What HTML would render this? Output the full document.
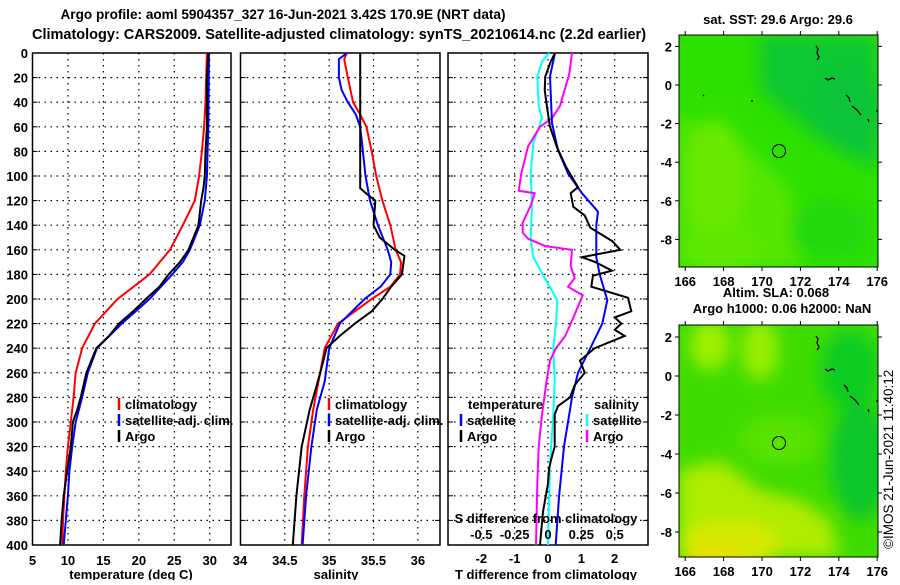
<!DOCTYPE html>
<html><head><meta charset="utf-8">
<style>
html,body{margin:0;padding:0;background:#fff;}
body{width:900px;height:580px;overflow:hidden;font-family:"Liberation Sans",sans-serif;}
svg text{font-family:"Liberation Sans",sans-serif;font-weight:bold;fill:#000;}
</style></head>
<body>
<svg id="chart" width="900" height="580" viewBox="0 0 900 580" xmlns="http://www.w3.org/2000/svg" font-size="13">
<defs>
<filter id="blur8" x="-50%" y="-50%" width="200%" height="200%"><feGaussianBlur stdDeviation="8"/></filter>
<clipPath id="clipTop"><rect x="679" y="35" width="199" height="232"/></clipPath>
<clipPath id="clipBot"><rect x="679" y="325" width="199" height="232"/></clipPath>
</defs>
<text x="283" y="19" text-anchor="middle" font-size="13.6">Argo profile: aoml 5904357_327 16-Jun-2021 3.42S 170.9E (NRT data)</text>
<text x="339" y="39" text-anchor="middle" font-size="14.5">Climatology: CARS2009. Satellite-adjusted climatology: synTS_20210614.nc (2.2d earlier)</text>
<g id="panels"></g>

<!-- Top map -->
<g>
<text x="778" y="24" text-anchor="middle">sat. SST: 29.6 Argo: 29.6</text>
<g clip-path="url(#clipTop)">
<rect x="679" y="35" width="199" height="232" fill="#2ee000"/>
<g filter="url(#blur8)">
<path d="M679 120 L720 125 L760 160 L790 190 L800 267 L679 267Z" fill="#55e600"/>
<ellipse cx="715" cy="180" rx="30" ry="60" fill="#6aea00"/>
<ellipse cx="720" cy="250" rx="40" ry="25" fill="#5fe800"/>
<path d="M760 35 L878 35 L878 170 L820 140 L760 90Z" fill="#10c830"/>
<ellipse cx="850" cy="110" rx="35" ry="40" fill="#08c438"/>
<ellipse cx="830" cy="230" rx="40" ry="30" fill="#22d810"/>
</g>
</g>
<rect x="679" y="35" width="199" height="232" fill="none" stroke="#000" stroke-width="1"/>
<path d="M816 46 l2 3 l-1 4 l2 4 l-2 3 M825 78 l3 2 l4 -2 l3 1 M846 95 l3 3 l1 4 M852 106 l5 4 l4 5 M868 119 l1 3 M703 95 l1 1 M751 101 l2 0 M877 110 l0 2" stroke="#000" stroke-width="1.3" fill="none"/>
<circle cx="779" cy="151" r="6.5" fill="none" stroke="#000" stroke-width="1"/>
<g id="topMapAxes"></g>
</g>

<!-- Bottom map -->
<g>
<text x="776" y="297" text-anchor="middle">Altim. SLA: 0.068</text>
<text x="782" y="313" text-anchor="middle">Argo h1000: 0.06 h2000: NaN</text>
<g clip-path="url(#clipBot)">
<rect x="679" y="325" width="199" height="232" fill="#40dc00"/>
<g filter="url(#blur8)">
<ellipse cx="710" cy="345" rx="20" ry="25" fill="#9ef000"/>
<ellipse cx="760" cy="350" rx="18" ry="30" fill="#9aef00"/>
<ellipse cx="850" cy="370" rx="30" ry="40" fill="#10cc20"/>
<ellipse cx="860" cy="460" rx="30" ry="60" fill="#08c62a"/>
<ellipse cx="780" cy="440" rx="40" ry="25" fill="#58e200"/>
<path d="M679 470 L720 460 L760 490 L800 500 L830 520 L840 557 L679 557Z" fill="#aeec00"/>
<ellipse cx="730" cy="545" rx="50" ry="25" fill="#d6ea00"/>
<ellipse cx="715" cy="560" rx="30" ry="15" fill="#e8e000"/>
</g>
</g>
<rect x="679" y="325" width="199" height="232" fill="none" stroke="#000" stroke-width="1"/>
<path d="M816 336 l2 3 l-1 4 l2 4 l-2 3 M825 369 l3 2 l4 -2 l3 1 M844 385 l3 3 l1 4 M850 396 l5 4 l4 5 M868 409 l1 3 M877 400 l0 2" stroke="#000" stroke-width="1.3" fill="none"/>
<circle cx="779" cy="443" r="6.5" fill="none" stroke="#000" stroke-width="1"/>
<g id="botMapAxes"></g>
</g>
<text transform="translate(893,549) rotate(-90)" font-size="13.5" style="font-weight:normal">©IMOS 21-Jun-2021 11:40:12</text>
</svg>

<script>
// ---- data (depths in dbar) ----
const depthTicks = [0,20,40,60,80,100,120,140,160,180,200,220,240,260,280,300,320,340,360,380,400];
const tempTicks = [5,10,15,20,25,30];
const salTicks = [34,34.5,35,35.5,36];
const dTTicks = [-2,-1,0,1,2];
const dSTicks = [-0.5,-0.25,0,0.25,0.5];
const dSTickLabels = ['-0.5','-0.25','0','0.25','0.5'];

const tClimDepth = [0,20,40,60,80,100,120,140,160,180,200,220,240,260,280,300,320,340,360,380,400];
const tClimVal   = [29.6,29.5,29.4,29.2,28.9,28.5,27.9,26.2,24.4,21.5,17.0,13.8,12.0,11.1,10.8,10.4,10.0,9.7,9.5,9.3,9.2];
const tSatDepth = [0,60,100,120,140,160,170,180,200,220,240,260,280,300,320,340,360,380,400];
const tSatVal   = [29.9,29.8,29.6,29.3,28.6,27.2,26.2,24.7,21.5,17.6,14.1,12.8,12.0,11.1,10.6,10.2,10.0,9.7,9.4];
const tArgoDepth = [0,20,60,80,100,110,120,140,160,170,180,190,200,210,220,230,240,260,280,290,300,320,340,360,380,400];
const tArgoVal   = [29.8,29.6,29.6,29.4,29.3,29.1,28.8,28.4,27.0,25.8,24.2,22.9,21.0,19.2,17.2,15.8,14.0,12.6,11.8,11.3,10.7,10.4,9.9,9.4,9.1,8.9];

const sClimDepth = [0,5,20,40,50,60,80,100,120,140,160,170,180,190,200,210,220,240,267,290,320,360,400];
const sClimVal   = [35.2,35.17,35.21,35.27,35.35,35.42,35.48,35.53,35.6,35.69,35.75,35.81,35.8,35.69,35.48,35.29,35.1,34.95,34.88,34.82,34.76,34.72,34.69];
const sSatDepth = [0,5,20,30,40,50,60,80,100,120,140,160,170,180,190,200,220,240,267,290,320,360,400];
const sSatVal   = [35.2,35.11,35.11,35.14,35.21,35.3,35.35,35.38,35.41,35.46,35.55,35.66,35.7,35.69,35.58,35.4,35.12,35.0,34.95,34.86,34.8,34.74,34.7];
const sArgoDepth = [0,110,115,120,140,150,160,165,170,180,190,200,210,220,230,240,260,290,320,360,400];
const sArgoVal   = [35.35,35.35,35.43,35.52,35.5,35.57,35.74,35.85,35.84,35.82,35.7,35.6,35.48,35.29,35.12,34.97,34.9,34.78,34.69,34.63,34.59];

const dTSatDepth = [0,19,57,79,98,114,129,140,166,180,201,220,240,260,280,300,320,361,400];
const dTSatVal   = [0.21,0.06,0.12,0.3,0.6,1.02,1.5,1.45,1.45,1.55,1.78,1.63,1.27,0.9,0.72,0.6,0.48,0.33,0.23];
const dTArgoDepth = [0,7,19,30,44,60,76,93,109,114,125,132,142,153,160,166,170,177,181,190,199,210,215,220,225,230,240,250,260,270,280,287,294,320,330,338,350,373,400];
const dTArgoVal   = [0.21,0.08,-0.08,-0.1,-0.03,0.06,0.26,0.55,0.9,0.68,0.76,1.1,1.27,1.93,2.17,1.02,1.42,1.92,1.35,1.3,2.4,2.5,2.0,2.2,2.0,2.3,1.4,0.96,1.1,0.8,0.66,0.3,0.2,0.2,0.1,0.03,0.0,-0.15,-0.24];
const dSSatDepth = [0,7,19,43,53,73,98,124,151,166,180,201,220,240,266,294,335,400];
const dSSatVal   = [0.01,-0.045,-0.08,-0.07,-0.045,-0.11,-0.13,-0.12,-0.13,-0.11,-0.04,0.07,0.06,0.04,0.05,0.04,0.015,0.0];
const dSArgoDepth = [0,17,43,53,60,76,98,112,114,124,138,146,151,157,160,173,183,190,197,210,220,230,240,250,266,294,320,350,400];
const dSArgoVal   = [0.18,0.16,0.09,0.03,-0.06,-0.15,-0.2,-0.22,-0.1,-0.13,-0.19,-0.19,-0.15,-0.02,0.18,0.17,0.2,0.15,0.26,0.21,0.17,0.13,0.06,0.015,-0.01,-0.045,-0.07,-0.08,-0.09];

const mapLonTicks = [166,168,170,172,174,176];
const mapLatTicks = [2,0,-2,-4,-6,-8];

const NS = 'http://www.w3.org/2000/svg';
const panelsG = document.getElementById('panels');
function mk(tag, attrs, parent){ const e=document.createElementNS(NS,tag); for(const k in attrs) e.setAttribute(k,attrs[k]); (parent||panelsG).appendChild(e); return e; }

const yTop=53, yBot=545;
function yScale(d){ return yTop + d*(yBot-yTop)/400; }

const panels = [
  {name:'temperature', x0:32.5, x1:231, vmin:5, vmax:33},
  {name:'salinity', x0:240.5, x1:440, vmin:34, vmax:36.25},
  {name:'difference', x0:448, x1:648, vmin:-3, vmax:3}
];
function xs(p, v){ return p.x0 + (v-p.vmin)*(p.x1-p.x0)/(p.vmax-p.vmin); }

function frame(p, xgrid){
  const g = mk('g',{});
  
  
  depthTicks.forEach(function(d){
    if(d===0||d===400) return;
    const l = mk('line',{x1:p.x0,x2:p.x1,y1:yScale(d),y2:yScale(d),stroke:'#000','stroke-width':1.2,'stroke-dasharray':'1.5,4.5'},g);
    
    
    mk('line',{x1:p.x0,x2:p.x0+5,y1:yScale(d),y2:yScale(d),stroke:'#000'},g);
    mk('line',{x1:p.x1-5,x2:p.x1,y1:yScale(d),y2:yScale(d),stroke:'#000'},g);
  });
  xgrid.forEach(function(v){
    const x = xs(p,v);
    if(x<=p.x0+1||x>=p.x1-1) return;
    const l = mk('line',{x1:x,x2:x,y1:yTop,y2:yBot,stroke:'#000','stroke-width':1.2,'stroke-dasharray':'1.5,4.5'},g);
    
    
  });
  const r = mk('rect',{x:p.x0,y:yTop,width:p.x1-p.x0,height:yBot-yTop,fill:'none',stroke:'#000','stroke-width':1.5},g);
  
  
  return g;
}
function series(p, depths, vals, color, name, scale){
  scale = scale||1;
  const pts = depths.map(function(d,i){ return xs(p, vals[i]*scale).toFixed(1)+','+yScale(d).toFixed(1); }).join(' ');
  const pl = mk('polyline',{points:pts,fill:'none',stroke:color,'stroke-width':2,'stroke-linejoin':'miter'});
  
  
}
function text(x,y,s,name,anchor,size){
  const t = mk('text',{x:x,y:y,'text-anchor':anchor||'start','font-size':size||13});
  t.textContent = s;
  
  
  return t;
}
function legendItem(x,y,color,label){
  const l = mk('line',{x1:x,x2:x,y1:y-11,y2:y+1,stroke:color,'stroke-width':2.5});
  
  
  text(x+6,y,label,'legend-entry','start',13);
}

// Panel 1
const p1=panels[0];
frame(p1, tempTicks);
series(p1,tClimDepth,tClimVal,'#ff0000','climatology-temperature-line');
series(p1,tSatDepth,tSatVal,'#0000ff','satellite-temperature-line');
series(p1,tArgoDepth,tArgoVal,'#000000','argo-temperature-line');
depthTicks.forEach(function(d){ text(28,yScale(d)+5,String(d),'depth-tick-label','end'); });
tempTicks.forEach(function(v){ text(xs(p1,v),565,String(v),'temperature-tick-label','middle'); });
text(131,579,'temperature (deg C)','temperature-axis-title','middle');
legendItem(119,409,'#ff0000','climatology');
legendItem(119,425,'#0000ff','satellite-adj. clim.');
legendItem(119,441,'#000000','Argo');

// Panel 2
const p2=panels[1];
frame(p2, salTicks);
series(p2,sClimDepth,sClimVal,'#ff0000','climatology-salinity-line');
series(p2,sSatDepth,sSatVal,'#0000ff','satellite-salinity-line');
series(p2,sArgoDepth,sArgoVal,'#000000','argo-salinity-line');
salTicks.forEach(function(v){ text(v===34?240:xs(p2,v),565,String(v),'salinity-tick-label','middle'); });
text(336,579,'salinity','salinity-axis-title','middle');
legendItem(329,409,'#ff0000','climatology');
legendItem(329,425,'#0000ff','satellite-adj. clim.');
legendItem(329,441,'#000000','Argo');

// Panel 3
const p3=panels[2];
frame(p3, dTTicks);
series(p3,dSSatDepth,dSSatVal,'#00ffff','satellite-salinity-difference-line',4);
series(p3,dSArgoDepth,dSArgoVal,'#ff00ff','argo-salinity-difference-line',4);
series(p3,dTSatDepth,dTSatVal,'#0000ff','satellite-temperature-difference-line');
series(p3,dTArgoDepth,dTArgoVal,'#000000','argo-temperature-difference-line');
dTTicks.forEach(function(v){ text(xs(p3,v),563,String(v),'temperature-difference-tick-label','middle'); });
text(546,579,'T difference from climatology','temperature-difference-axis-title','middle');
text(546,523,'S difference from climatology','salinity-difference-axis-title','middle',13);
dSTicks.forEach(function(v,i){ text(xs(p3,v*4),539,dSTickLabels[i],'salinity-difference-tick-label','middle',13); });
text(468,409,'temperature','legend-group-title','start',13);
legendItem(461,425,'#0000ff','satellite');
legendItem(461,441,'#000000','Argo');
text(594,409,'salinity','legend-group-title','start',13);
legendItem(587,425,'#00ffff','satellite');
legendItem(587,441,'#ff00ff','Argo');

// Map axes
function mapAxes(gid, top, bottom, lat0y, pxPerLat){
  const g = document.getElementById(gid);
  const lonX = function(lon){ return 762 + (lon-170)*19.2; };
  mapLonTicks.forEach(function(lon){
    const x=lonX(lon);
    mk('line',{x1:x,x2:x,y1:top-4,y2:top,stroke:'#000'},g);
    mk('line',{x1:x,x2:x,y1:bottom,y2:bottom+4,stroke:'#000'},g);
    const t=mk('text',{x:x,y:bottom+19,'text-anchor':'middle','font-size':13},g);
    t.textContent=String(lon);
    
    
  });
  mapLatTicks.forEach(function(lat){
    const y=lat0y - lat*pxPerLat;
    mk('line',{x1:675,x2:679,y1:y,y2:y,stroke:'#000'},g);
    mk('line',{x1:878,x2:882,y1:y,y2:y,stroke:'#000'},g);
    const t=mk('text',{x:672,y:y+5,'text-anchor':'end','font-size':13},g);
    t.textContent=String(lat);
    
    
  });
}
mapAxes('topMapAxes',35,267,85,19.3);
mapAxes('botMapAxes',325,557,376,19.5);
</script>
</body></html>
